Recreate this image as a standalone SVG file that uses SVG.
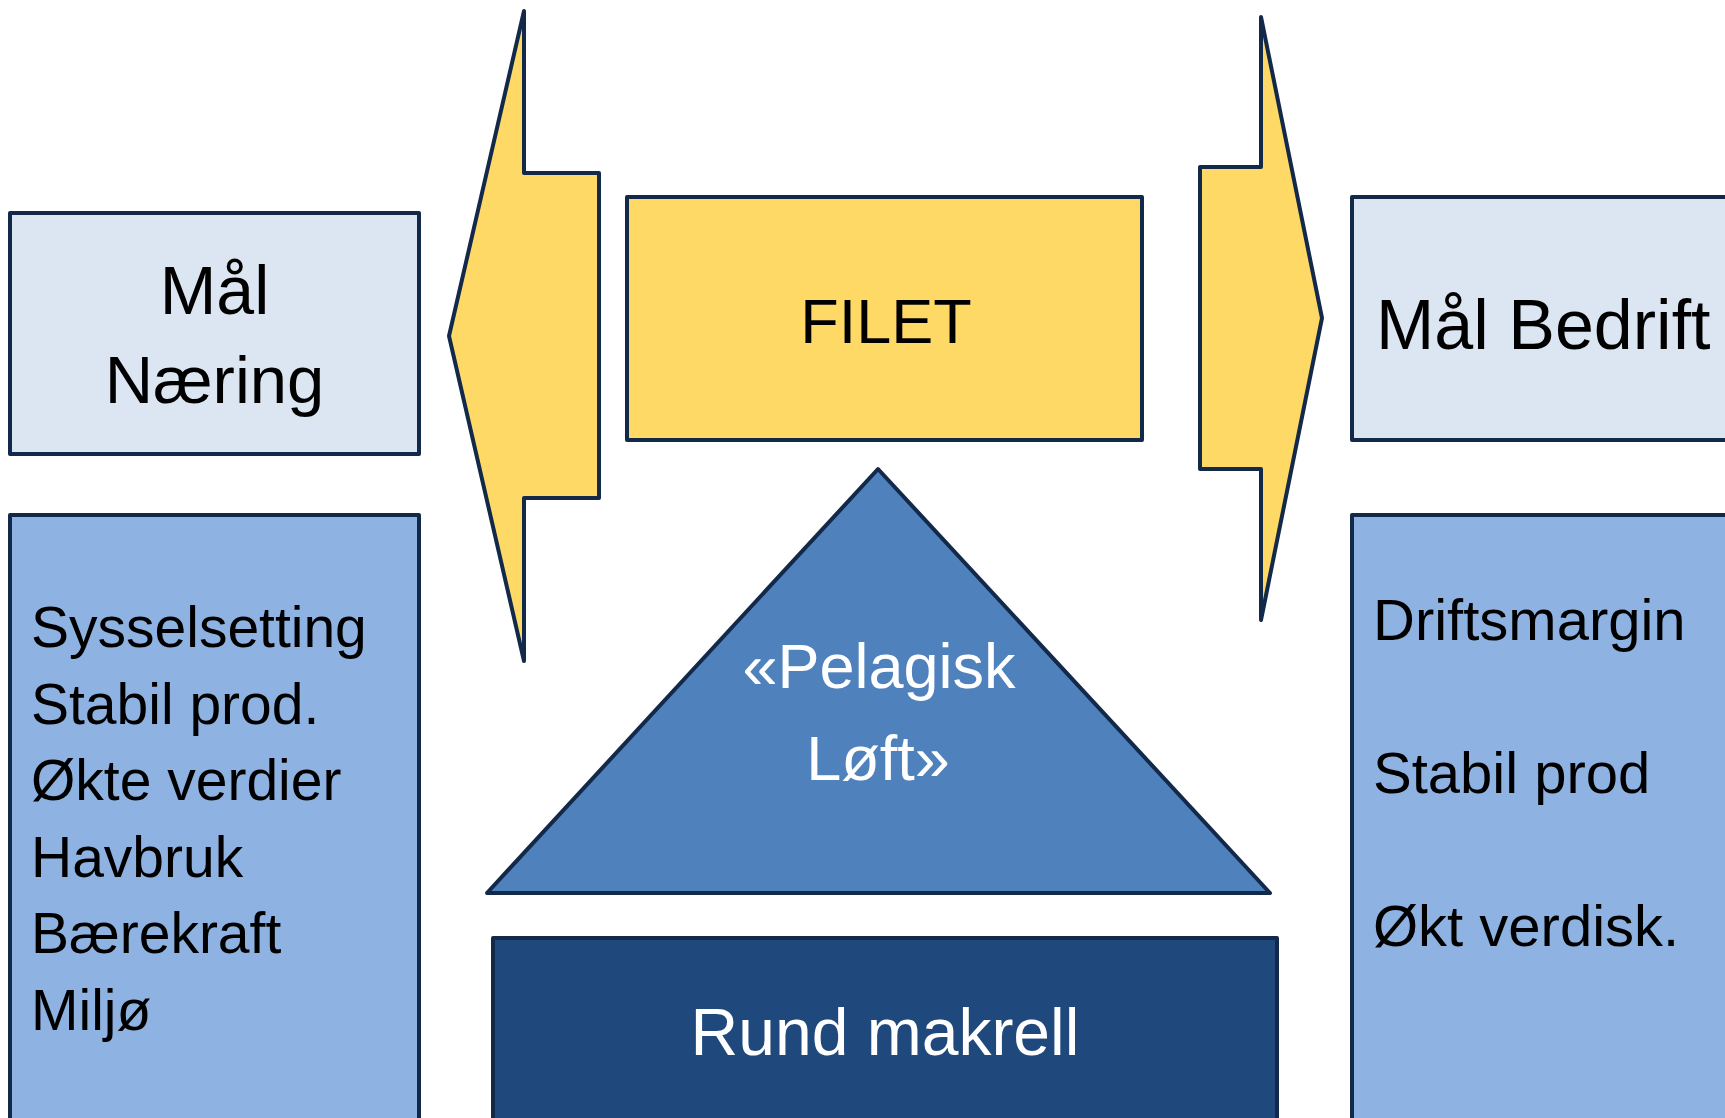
<svg xmlns="http://www.w3.org/2000/svg" width="1725" height="1118" viewBox="0 0 1725 1118">
<style>
.s{stroke:#13294a;stroke-width:4;stroke-linejoin:round}
.light{fill:#dce6f2}
.yel{fill:#ffd966}
.mid{fill:#8eb3e2}
.tri{fill:#4f81bd}
.dark{fill:#1f497d}
text{font-family:"Liberation Sans",Arial,sans-serif}
.k{fill:#000}
.w{fill:#fff}
.c{text-anchor:middle}
</style>
<rect width="1725" height="1118" fill="#fff"/>
<g id="connectors">
<polygon id="arrow-left" class="s yel" points="524,11 524,173 599,173 599,498 524,498 524,661 449,336"/>
<polygon id="arrow-right" class="s yel" points="1261,17 1322,318 1261,620 1261,469 1200,469 1200,167 1261,167"/>
</g>
<g id="mal-naering">
<rect class="s light" x="10" y="213" width="409" height="241"/>
<text class="k c" x="214.5" y="314" font-size="68">Mål</text>
<text class="k c" x="214.5" y="403" font-size="67">Næring</text>
</g>
<g id="filet">
<rect class="s yel" x="627" y="197" width="515" height="243"/>
<text class="k c" x="886" y="343" font-size="63">FILET</text>
</g>
<g id="mal-bedrift">
<rect class="s light" x="1352" y="197" width="390" height="243"/>
<text class="k" x="1376" y="349" font-size="70">Mål Bedrift</text>
</g>
<g id="naering-list">
<rect class="s mid" x="10" y="515" width="409" height="620"/>
<text class="k" x="31" y="647" font-size="57">Sysselsetting</text>
<text class="k" x="31" y="724" font-size="57">Stabil prod.</text>
<text class="k" x="31" y="800" font-size="57">Økte verdier</text>
<text class="k" x="31" y="877" font-size="57">Havbruk</text>
<text class="k" x="31" y="953" font-size="57">Bærekraft</text>
<text class="k" x="31" y="1030" font-size="57">Miljø</text>
</g>
<g id="bedrift-list">
<rect class="s mid" x="1352" y="515" width="390" height="620"/>
<text class="k" x="1373" y="640" font-size="58">Driftsmargin</text>
<text class="k" x="1373" y="793" font-size="58">Stabil prod</text>
<text class="k" x="1373" y="946" font-size="58">Økt verdisk.</text>
</g>
<g id="pelagisk-loft">
<polygon class="s tri" points="878,469 1270,893 487,893"/>
<text class="w c" x="879" y="688" font-size="63">«Pelagisk</text>
<text class="w c" x="878" y="780" font-size="63">Løft»</text>
</g>
<g id="rund-makrell">
<rect class="s dark" x="493" y="938" width="784" height="200"/>
<text class="w c" x="885" y="1055" font-size="66">Rund makrell</text>
</g>
</svg>
